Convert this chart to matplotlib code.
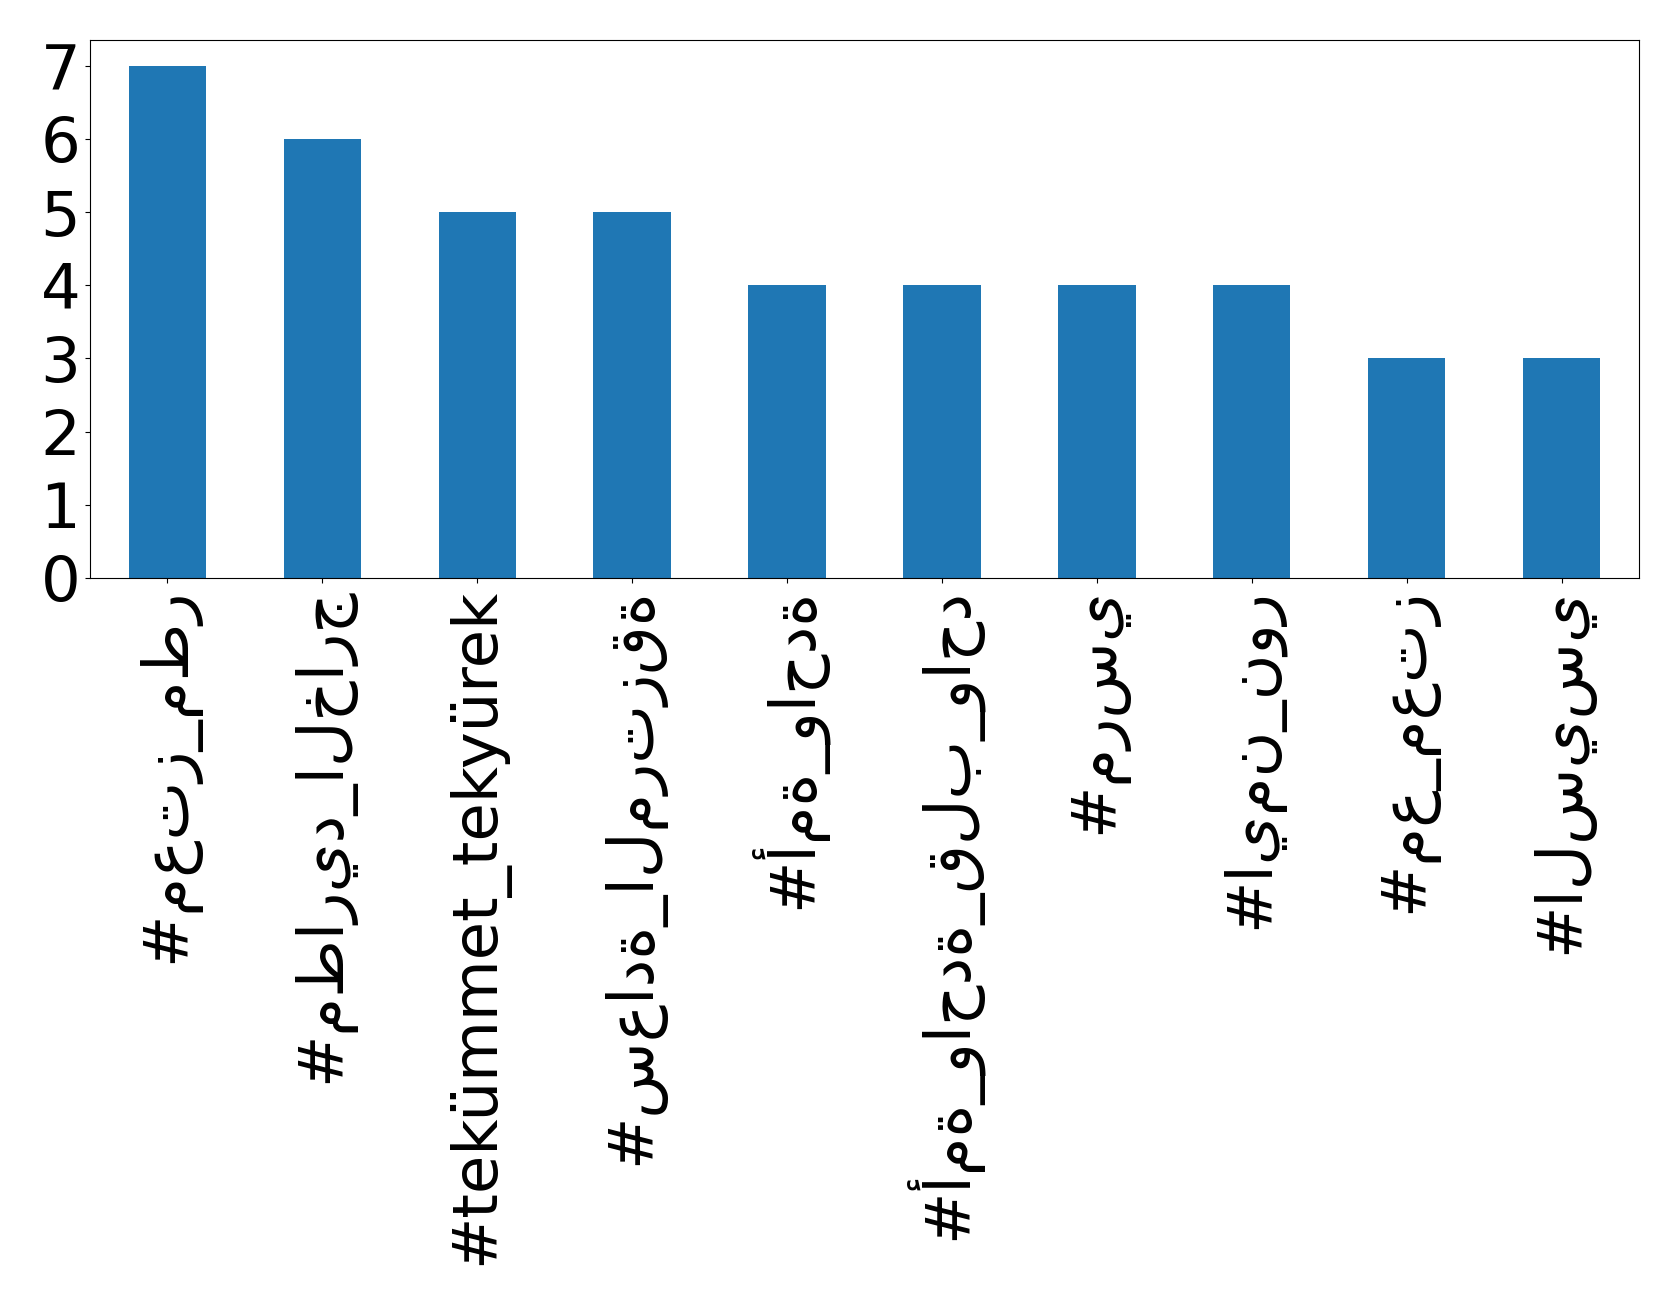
import matplotlib
matplotlib.use('Agg')
import matplotlib.pyplot as plt
import numpy as np

# hashtag counts
hashtags = [
    "#معتز_مطر",
    "#مطاريد_الخارج",
    "#tekümmet_tekyürek",
    "#سعادة_المرتزقة",
    "#أمة_واحدة",
    "#أمة_واحدة_قلب_واحد",
    "#مرسي",
    "#ايمن_نور",
    "#مع_معتز",
    "#السيسي",
]
counts = [7, 6, 5, 5, 4, 4, 4, 4, 3, 3]

fig = plt.figure(figsize=(16.79, 13.05), dpi=100)
ax = fig.add_axes([90 / 1679, 1 - 578 / 1305, (1639 - 90) / 1679, (578 - 40) / 1305])

x = np.arange(len(hashtags))
ax.bar(x, counts, width=0.5, color='#1f77b4')
ax.set_xlim(-0.5, len(hashtags) - 0.5)
ax.set_xticks(x)
ax.set_xticklabels(hashtags, rotation=90, fontsize=45)
ax.set_yticks(range(0, 8))
ax.tick_params(axis='y', labelsize=45)

plt.savefig('out.png', dpi=100)
plt.close()
